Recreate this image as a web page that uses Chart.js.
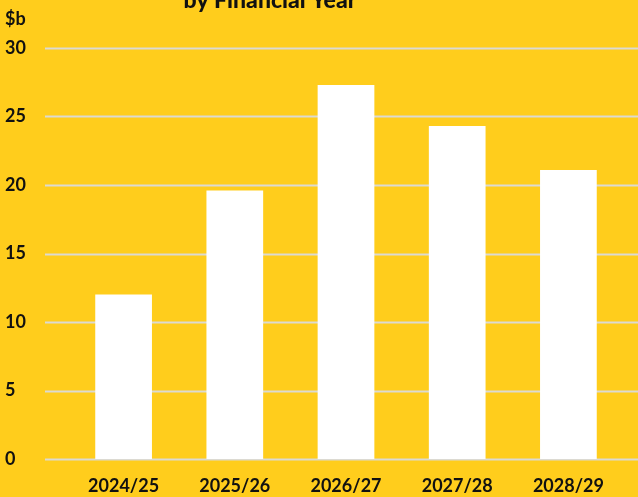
<!DOCTYPE html>
<html>
<head>
<meta charset="utf-8">
<script src="https://cdn.jsdelivr.net/npm/chart.js@4"></script>
<style>
  html, body { margin: 0; padding: 0; background: #FFCD1C; overflow: hidden; }
  #wrap { position: relative; width: 638px; height: 497px; }
</style>
</head>
<body>
<div id="wrap"><canvas id="chart"></canvas></div>
<script>
// Chart data
const years = ['2024/25', '2025/26', '2026/27', '2027/28', '2028/29'];
const spending = [12.0, 19.6, 27.3, 24.3, 21.1];
const yTicks = [0, 5, 10, 15, 20, 25, 30];
const titleText = 'by Financial Year';
const unitLabel = '$b';

const fontFamily = 'Lato, "Open Sans", sans-serif';

// full-width grid lines + title + unit label
const decorations = {
    id: 'decorations',
    beforeDatasetsDraw(chart) {
        const ctx = chart.ctx;
        const y = chart.scales.y;
        ctx.save();
        ctx.strokeStyle = '#DCDAD2';
        ctx.lineWidth = 2;
        yTicks.forEach(v => {
            const py = Math.round(y.getPixelForValue(v)) + 0.5;
            ctx.beginPath();
            ctx.moveTo(45, py);
            ctx.lineTo(chart.width, py);
            ctx.stroke();
        });
        ctx.restore();
    },
    afterDraw(chart) {
        const ctx = chart.ctx;
        ctx.save();
        ctx.fillStyle = '#111';
        ctx.textBaseline = 'alphabetic';
        ctx.font = '900 23px ' + fontFamily;
        ctx.textAlign = 'center';
        ctx.fillText(titleText, 270, 8);
        ctx.font = 'bold 18px ' + fontFamily;
        ctx.textAlign = 'left';
        ctx.fillText(unitLabel, 5, 25);
        ctx.restore();
    }
};

new Chart(document.getElementById('chart'), {
    type: 'bar',
    data: {
        labels: years,
        datasets: [{
            data: spending,
            backgroundColor: '#FFFFFF',
            borderWidth: 0,
            categoryPercentage: 1,
            barPercentage: 0.51
        }]
    },
    options: {
        responsive: true,
        maintainAspectRatio: false,
        animation: false,
        layout: { padding: { top: 48, right: 14, left: 5, bottom: 0 } },
        plugins: {
            legend: { display: false },
            tooltip: { enabled: false }
        },
        scales: {
            x: {
                grid: { display: false },
                border: { display: false },
                afterFit(scale) { scale.height = 38; },
                ticks: {
                    color: '#111',
                    font: { family: fontFamily, size: 18, weight: 'bold' },
                    padding: 8,
                    maxRotation: 0
                }
            },
            y: {
                min: 0,
                max: 30,
                grid: { display: false },
                border: { display: false },
                afterFit(scale) { scale.width = 63; },
                ticks: {
                    stepSize: 5,
                    crossAlign: 'far',
                    color: '#111',
                    font: { family: fontFamily, size: 18, weight: 'bold' }
                }
            }
        }
    },
    plugins: [decorations]
});
</script>
</body>
</html>
